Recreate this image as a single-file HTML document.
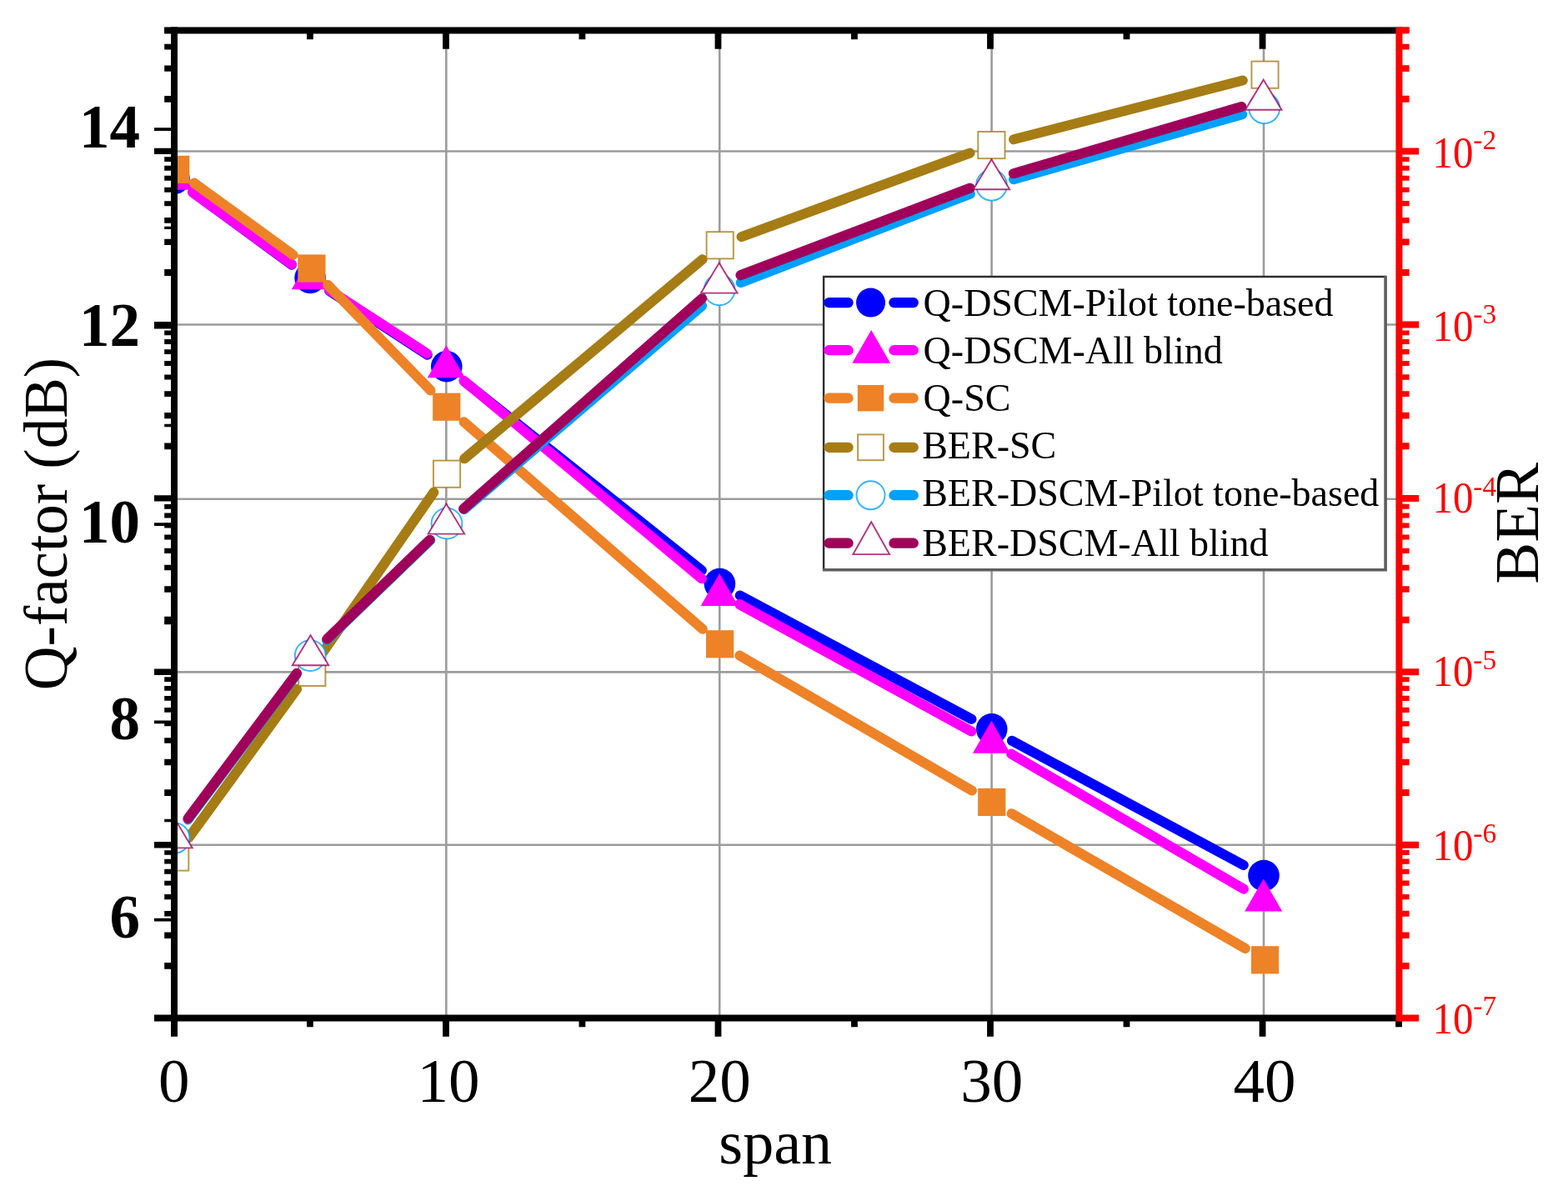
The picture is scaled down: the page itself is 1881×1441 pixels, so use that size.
<!DOCTYPE html>
<html lang="en"><head><meta charset="utf-8"><title>Q-factor and BER versus span</title>
<style>html,body{margin:0;padding:0;background:#fff}body{width:1881px;height:1441px;overflow:hidden}svg{display:block}text{font-family:"Liberation Serif",serif}</style>
</head><body>
<svg width="1881" height="1441" viewBox="0 0 1881 1441" role="img" aria-label="Q-factor and BER versus span">
<rect x="0" y="0" width="1881" height="1441" fill="#ffffff"/>
<defs><clipPath id="plot"><rect x="209" y="36.4" width="1469.4" height="1185.1"/></clipPath></defs>
<g stroke="#9c9c9c" stroke-width="2.6" fill="none">
<line x1="535.3" y1="36.4" x2="535.3" y2="1221.5"/>
<line x1="863.2" y1="36.4" x2="863.2" y2="1221.5"/>
<line x1="1189.6" y1="36.4" x2="1189.6" y2="1221.5"/>
<line x1="1516" y1="36.4" x2="1516" y2="1221.5"/>
<line x1="209" y1="181.5" x2="1678.4" y2="181.5"/>
<line x1="209" y1="389.5" x2="1678.4" y2="389.5"/>
<line x1="209" y1="598.8" x2="1678.4" y2="598.8"/>
<line x1="209" y1="806.4" x2="1678.4" y2="806.4"/>
<line x1="209" y1="1013.7" x2="1678.4" y2="1013.7"/>
</g>
<g clip-path="url(#plot)">
<path d="M231.18 230.66L349.92 317.74M395.14 349.02L512.71 425.68M557.27 457.83L841.88 684.37M887.66 714.46L1165.44 862.84M1213.93 888.81L1491.77 1037.99" stroke="#0000ff" stroke-width="12" stroke-linecap="round" fill="none"/>
<circle cx="209" cy="214.4" r="18.8" fill="#0000ff"/>
<circle cx="372.1" cy="333.5" r="18.8" fill="#0000ff"/>
<circle cx="535.75" cy="439.7" r="18.8" fill="#0000ff"/>
<circle cx="863.4" cy="700.5" r="18.8" fill="#0000ff"/>
<circle cx="1189.7" cy="874.8" r="18.8" fill="#0000ff"/>
<circle cx="1516" cy="1050.5" r="18.8" fill="#0000ff"/>
<path d="M231.26 230.85L350.04 317.05M395.35 348.19L512.25 424.21M556.44 456.79L841.96 694.31M887.21 725.12L1165.29 877.58M1213.17 904.62L1491.93 1066.68" stroke="#ff00ff" stroke-width="12" stroke-linecap="round" fill="none"/>
<polygon points="209,188.7 231.52,227.7 186.48,227.7" fill="#ff00ff"/>
<polygon points="372.3,308.2 394.82,347.2 349.78,347.2" fill="#ff00ff"/>
<polygon points="535.3,414.2 557.82,453.2 512.78,453.2" fill="#ff00ff"/>
<polygon points="863.1,687.9 885.62,726.9 840.58,726.9" fill="#ff00ff"/>
<polygon points="1189.4,864.8 1211.92,903.8 1166.88,903.8" fill="#ff00ff"/>
<polygon points="1515.7,1054.5 1538.22,1093.5 1493.18,1093.5" fill="#ff00ff"/>
<path d="M232.95 219.57L351.65 305.83M393.09 341.7L516.56 468.5M556.52 506.23L842.83 754.77M887.37 786.62L1165.98 948.58M1213.56 976.16L1493.79 1138.04" stroke="#ee8227" stroke-width="12" stroke-linecap="round" fill="none"/>
<rect x="194.1" y="186.8" width="33.2" height="33.2" fill="#ee8227"/>
<rect x="357.3" y="305.4" width="33.2" height="33.2" fill="#ee8227"/>
<rect x="519.15" y="471.6" width="33.2" height="33.2" fill="#ee8227"/>
<rect x="847" y="756.2" width="33.2" height="33.2" fill="#ee8227"/>
<rect x="1173.15" y="945.8" width="33.2" height="33.2" fill="#ee8227"/>
<rect x="1501" y="1135.2" width="33.2" height="33.2" fill="#ee8227"/>
<path d="M226.37 1005.26L356.13 826.74M387.95 781.89L520.35 590.61M557.08 550.34L842.62 311.26M889.52 284.13L1163.58 183.57M1216.03 167.25L1490.87 96.55" stroke="#a67c14" stroke-width="12" stroke-linecap="round" fill="none"/>
<rect x="194.1" y="1012.4" width="32.2" height="32.2" fill="#ffffff" stroke="#a67c14" stroke-width="1.9" stroke-opacity="0.8"/>
<rect x="358.2" y="790.8" width="32.2" height="32.2" fill="#ffffff" stroke="#a67c14" stroke-width="1.9" stroke-opacity="0.8"/>
<rect x="519.9" y="552.6" width="32.2" height="32.2" fill="#ffffff" stroke="#a67c14" stroke-width="1.9" stroke-opacity="0.8"/>
<rect x="847.6" y="278.2" width="32.2" height="32.2" fill="#ffffff" stroke="#a67c14" stroke-width="1.9" stroke-opacity="0.8"/>
<rect x="1173.3" y="158" width="32.2" height="32.2" fill="#ffffff" stroke="#a67c14" stroke-width="1.9" stroke-opacity="0.8"/>
<rect x="1501.4" y="73.6" width="32.2" height="32.2" fill="#ffffff" stroke="#a67c14" stroke-width="1.9" stroke-opacity="0.8"/>
<path d="M225.46 983.47L355.74 809.13M391.99 768.01L516.21 648.19M556.89 611.21L842.11 366.89M888.65 339.08L1163.85 232.62M1215.95 215.18L1490.25 137.22" stroke="#00a0ff" stroke-width="12" stroke-linecap="round" fill="none"/>
<circle cx="209" cy="1005.5" r="18.4" fill="#ffffff" stroke="#00a0ff" stroke-width="1.9" stroke-opacity="0.8"/>
<circle cx="372.2" cy="786.6" r="18.4" fill="#ffffff" stroke="#00a0ff" stroke-width="1.9" stroke-opacity="0.8"/>
<circle cx="536" cy="628.1" r="18.4" fill="#ffffff" stroke="#00a0ff" stroke-width="1.9" stroke-opacity="0.8"/>
<circle cx="863" cy="347.8" r="18.4" fill="#ffffff" stroke="#00a0ff" stroke-width="1.9" stroke-opacity="0.8"/>
<circle cx="1189.5" cy="222.2" r="18.4" fill="#ffffff" stroke="#00a0ff" stroke-width="1.9" stroke-opacity="0.8"/>
<circle cx="1516.7" cy="129.7" r="18.4" fill="#ffffff" stroke="#00a0ff" stroke-width="1.9" stroke-opacity="0.8"/>
<path d="M225.49 981.99L356.01 807.81M392.29 766.71L515.61 647.79M556.02 610.51L842.08 358.19M888.41 330.23L1163.69 225.67M1215.79 208.17L1489.31 128.03" stroke="#a0005a" stroke-width="12" stroke-linecap="round" fill="none"/>
<polygon points="209,981.4 230.8,1017.4 187.2,1017.4" fill="#ffffff" stroke="#a0005a" stroke-width="1.9" stroke-opacity="0.8"/>
<polygon points="372.5,762.2 394.3,798.2 350.7,798.2" fill="#ffffff" stroke="#a0005a" stroke-width="1.9" stroke-opacity="0.8"/>
<polygon points="535.4,604.6 557.2,640.6 513.6,640.6" fill="#ffffff" stroke="#a0005a" stroke-width="1.9" stroke-opacity="0.8"/>
<polygon points="862.7,315.6 884.5,351.6 840.9,351.6" fill="#ffffff" stroke="#a0005a" stroke-width="1.9" stroke-opacity="0.8"/>
<polygon points="1189.4,191.3 1211.2,227.3 1167.6,227.3" fill="#ffffff" stroke="#a0005a" stroke-width="1.9" stroke-opacity="0.8"/>
<polygon points="1515.7,95.7 1537.5,131.7 1493.9,131.7" fill="#ffffff" stroke="#a0005a" stroke-width="1.9" stroke-opacity="0.8"/>
</g>
<g stroke="#000000" fill="none">
<path d="M197.2 1158.89H209M197.2 951.09H209M197.2 743.69H209M197.2 535.29H209M197.2 326.99H209M197.2 118.79H209" stroke-width="7.8"/>
<path d="M197.2 1122.26H209M197.2 914.46H209M197.2 707.06H209M197.2 498.66H209M197.2 290.36H209M197.2 82.16H209" stroke-width="7.4"/>
<path d="M197.2 1096.27H209M197.2 888.47H209M197.2 681.07H209M197.2 472.67H209M197.2 264.37H209M197.2 56.17H209" stroke-width="6.6"/>
<path d="M197.2 1076.11H209M197.2 868.31H209M197.2 660.91H209M197.2 452.51H209M197.2 244.21H209M197.2 36.01H209" stroke-width="6.1"/>
<path d="M197.2 1059.64H209M197.2 851.84H209M197.2 644.44H209M197.2 436.04H209M197.2 227.74H209" stroke-width="5.9"/>
<path d="M197.2 1045.72H209M197.2 837.92H209M197.2 630.52H209M197.2 422.12H209M197.2 213.82H209" stroke-width="5.9"/>
<path d="M197.2 1033.66H209M197.2 825.86H209M197.2 618.46H209M197.2 410.06H209M197.2 201.76H209" stroke-width="5.9"/>
<path d="M197.2 1023.02H209M197.2 815.22H209M197.2 607.82H209M197.2 399.42H209M197.2 191.12H209" stroke-width="5.7"/>
<path d="M185 1013.7H209M185 806.3H209M185 597.9H209M185 389.6H209M185 181.4H209" stroke-width="7.4"/>
<path d="M185 1103.6H209M185 866.3H209M185 629.2H209M185 392.6H209M185 155.2H209" stroke-width="3.8"/>
<path d="M197.2 984.48H209M197.2 747.46H209M197.2 510.44H209M197.2 273.42H209" stroke-width="3.4"/>
<path d="M197.2 36.4H1678.4" stroke-width="8"/>
<path d="M185 1221.5H1678.4" stroke-width="8"/>
<path d="M209 32.4V1243.8" stroke-width="8"/>
<path d="M534.93 1221.5V1243.8M534.93 36.4V58.8M861.47 1221.5V1243.8M861.47 36.4V58.8M1188 1221.5V1243.8M1188 36.4V58.8M1514.53 1221.5V1243.8M1514.53 36.4V58.8M371.87 1221.5V1232.2M371.87 36.4V47.2M698.4 1221.5V1232.2M698.4 36.4V47.2M1024.93 1221.5V1232.2M1024.93 36.4V47.2M1351.47 1221.5V1232.2M1351.47 36.4V47.2M1678 1221.5V1232.2" stroke-width="7.8"/>
</g>
<g stroke="#ff0000" fill="none">
<path d="M1678.4 32.4V1225.5" stroke-width="8"/>
<path d="M1678.4 1158.89H1690.6M1678.4 951.09H1690.6M1678.4 743.69H1690.6M1678.4 535.29H1690.6M1678.4 326.99H1690.6M1678.4 118.79H1690.6" stroke-width="8"/>
<path d="M1678.4 1122.26H1690.6M1678.4 914.46H1690.6M1678.4 707.06H1690.6M1678.4 498.66H1690.6M1678.4 290.36H1690.6M1678.4 82.16H1690.6" stroke-width="7.6"/>
<path d="M1678.4 1096.27H1690.6M1678.4 888.47H1690.6M1678.4 681.07H1690.6M1678.4 472.67H1690.6M1678.4 264.37H1690.6M1678.4 56.17H1690.6" stroke-width="6.8"/>
<path d="M1678.4 1076.11H1690.6M1678.4 868.31H1690.6M1678.4 660.91H1690.6M1678.4 452.51H1690.6M1678.4 244.21H1690.6M1678.4 36.01H1690.6" stroke-width="6.3"/>
<path d="M1678.4 1059.64H1690.6M1678.4 851.84H1690.6M1678.4 644.44H1690.6M1678.4 436.04H1690.6M1678.4 227.74H1690.6" stroke-width="6.1"/>
<path d="M1678.4 1045.72H1690.6M1678.4 837.92H1690.6M1678.4 630.52H1690.6M1678.4 422.12H1690.6M1678.4 213.82H1690.6" stroke-width="6.1"/>
<path d="M1678.4 1033.66H1690.6M1678.4 825.86H1690.6M1678.4 618.46H1690.6M1678.4 410.06H1690.6M1678.4 201.76H1690.6" stroke-width="6.1"/>
<path d="M1678.4 1023.02H1690.6M1678.4 815.22H1690.6M1678.4 607.82H1690.6M1678.4 399.42H1690.6M1678.4 191.12H1690.6" stroke-width="5.9"/>
<path d="M1678.4 36.4H1690.6" stroke-width="8"/>
<path d="M1678.4 1221.5H1702.2M1678.4 1013.7H1702.2M1678.4 806.3H1702.2M1678.4 597.9H1702.2M1678.4 389.6H1702.2M1678.4 181.4H1702.2" stroke-width="8"/>
</g>
<rect x="988.1" y="332" width="674" height="351.7" fill="#ffffff"/>
<path d="M986.9 332H1662.1M988.1 332V683.7" stroke="#2e2e2e" stroke-width="2.4" fill="none"/>
<path d="M986.9 683.7H1663.9M1662.1 330.8V683.7" stroke="#5e5e5e" stroke-width="3.6" fill="none"/>
<path d="M994.4 363.1H1017.6M1072.4 363.1H1095.8" stroke="#0000ff" stroke-width="12.2" stroke-linecap="round" fill="none"/>
<circle cx="1044.5" cy="363.1" r="17.5" fill="#0000ff"/>
<path d="M994.4 420.2H1017.6M1072.4 420.2H1095.8" stroke="#ff00ff" stroke-width="12.2" stroke-linecap="round" fill="none"/>
<polygon points="1045.2,395.9 1068.15,435.65 1022.25,435.65" fill="#ff00ff"/>
<path d="M994.4 477.7H1017.6M1072.4 477.7H1095.8" stroke="#ee8227" stroke-width="12.2" stroke-linecap="round" fill="none"/>
<rect x="1028.8" y="462" width="31.4" height="31.4" fill="#ee8227"/>
<path d="M994.4 536.8H1017.6M1072.4 536.8H1095.8" stroke="#a67c14" stroke-width="12.2" stroke-linecap="round" fill="none"/>
<rect x="1029.1" y="521.4" width="30.8" height="30.8" fill="#ffffff" stroke="#a67c14" stroke-width="1.9" stroke-opacity="0.8"/>
<path d="M994.4 594.2H1017.6M1072.4 594.2H1095.8" stroke="#00a0ff" stroke-width="12.2" stroke-linecap="round" fill="none"/>
<circle cx="1044.5" cy="594.2" r="17" fill="#ffffff" stroke="#00a0ff" stroke-width="1.9" stroke-opacity="0.8"/>
<path d="M994.4 651.7H1017.6M1072.4 651.7H1095.8" stroke="#a0005a" stroke-width="12.2" stroke-linecap="round" fill="none"/>
<polygon points="1045.2,626.3 1067,665.1 1023.4,665.1" fill="#ffffff" stroke="#a0005a" stroke-width="1.9" stroke-opacity="0.8"/>
<g font-size="46" fill="#000000">
<text x="1107.6" y="379.3">Q-DSCM-Pilot tone-based</text>
<text x="1107.6" y="436.3">Q-DSCM-All blind</text>
<text x="1107.6" y="492.8">Q-SC</text>
<text x="1106.2" y="550.3">BER-SC</text>
<text x="1106.2" y="607.4">BER-DSCM-Pilot tone-based</text>
<text x="1106.2" y="666.8">BER-DSCM-All blind</text>
</g>
<g font-size="73" font-weight="bold" fill="#000000" text-anchor="end">
<text x="168.0" y="177.4">14</text>
<text x="168.0" y="414.7">12</text>
<text x="168.0" y="650.8">10</text>
<text x="168.0" y="887.2">8</text>
<text x="168.0" y="1124.6">6</text>
</g>
<g font-size="75" fill="#000000" text-anchor="middle">
<text x="208.8" y="1322.4">0</text>
<text x="538" y="1322.4">10</text>
<text x="863.3" y="1322.4">20</text>
<text x="1189.8" y="1322.4">30</text>
<text x="1517" y="1322.4">40</text>
</g>
<g font-size="51" fill="#ff0000">
<text transform="translate(1718.6 201.2) scale(0.96 1.035)">10</text><text x="1767.3" y="179" font-size="33.3">-2</text>
<text transform="translate(1718.6 408.8) scale(0.96 1.035)">10</text><text x="1767.3" y="387.5" font-size="33.3">-3</text>
<text transform="translate(1718.6 615.4) scale(0.96 1.035)">10</text><text x="1767.3" y="595.2" font-size="33.3">-4</text>
<text transform="translate(1718.6 823) scale(0.96 1.035)">10</text><text x="1767.3" y="802.8" font-size="33.3">-5</text>
<text transform="translate(1718.6 1032.4) scale(0.96 1.035)">10</text><text x="1767.3" y="1011.1" font-size="33.3">-6</text>
<text transform="translate(1718.6 1240) scale(0.96 1.035)">10</text><text x="1767.3" y="1218.2" font-size="33.3">-7</text>
</g>
<text x="930.2" y="1396.3" font-size="74" text-anchor="middle" fill="#000000">span</text>
<text transform="translate(80 628.5) rotate(-90)" font-size="73" text-anchor="middle" fill="#000000">Q-factor (dB)</text>
<text transform="translate(1844.8 627.8) rotate(-90)" font-size="75" text-anchor="middle" fill="#000000">BER</text>
</svg></body></html>
